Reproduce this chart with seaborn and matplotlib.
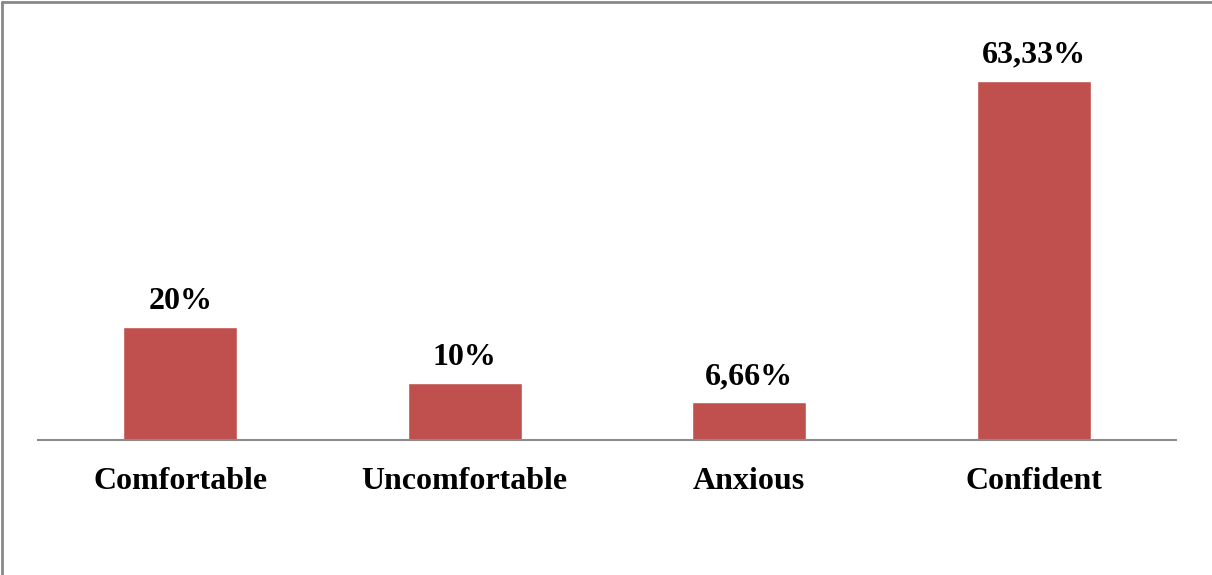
import matplotlib
matplotlib.use("Agg")
import matplotlib.pyplot as plt
import seaborn as sns
import pandas as pd
from matplotlib.lines import Line2D

categories = ["Comfortable", "Uncomfortable", "Anxious", "Confident"]
values = [20, 10, 6.66, 63.33]
labels = ["20%", "10%", "6,66%", "63,33%"]

sns.set_theme(style="white")
plt.rcParams['font.family'] = ['Liberation Serif', 'DejaVu Serif']

df = pd.DataFrame({"cat": categories, "val": values})

W, H = 1212, 575
fig = plt.figure(figsize=(W / 100, H / 100), dpi=100)
left, right = 38 / W, 1176 / W
bottom = 1 - 440 / H
top = 1 - 43.2 / H
ax = fig.add_axes([left, bottom, right - left, top - bottom])

sns.barplot(data=df, x="cat", y="val", color="#C0504D", width=0.4,
            saturation=1, ax=ax)
ax.set_xlim(-0.5, 3.5)
ax.set_ylim(0, 70)
ax.set_xlabel("")
ax.set_ylabel("")
ax.set_yticks([])
for s in ["top", "right", "left"]:
    ax.spines[s].set_visible(False)
ax.spines["bottom"].set_color("#8c8c8c")
ax.spines["bottom"].set_linewidth(1.5)
ax.tick_params(axis="x", length=0, pad=19.5, labelsize=23)
for t in ax.get_xticklabels():
    t.set_fontweight("bold")
    t.set_color("black")

for i, (v, lab) in enumerate(zip(values, labels)):
    ax.annotate(lab, (i, v), xytext=(0, 8), textcoords="offset points",
                ha="center", va="bottom", fontsize=23, fontweight="bold",
                color="black")

# figure border (top and left visible)
fig.add_artist(Line2D([1.5 / W, 1.5 / W], [0, 1 - 1.5 / H], transform=fig.transFigure,
                      color="#888888", linewidth=2))
fig.add_artist(Line2D([1.5 / W, 1], [1 - 1.5 / H, 1 - 1.5 / H], transform=fig.transFigure,
                      color="#888888", linewidth=2))

fig.savefig("out.png", dpi=100)
